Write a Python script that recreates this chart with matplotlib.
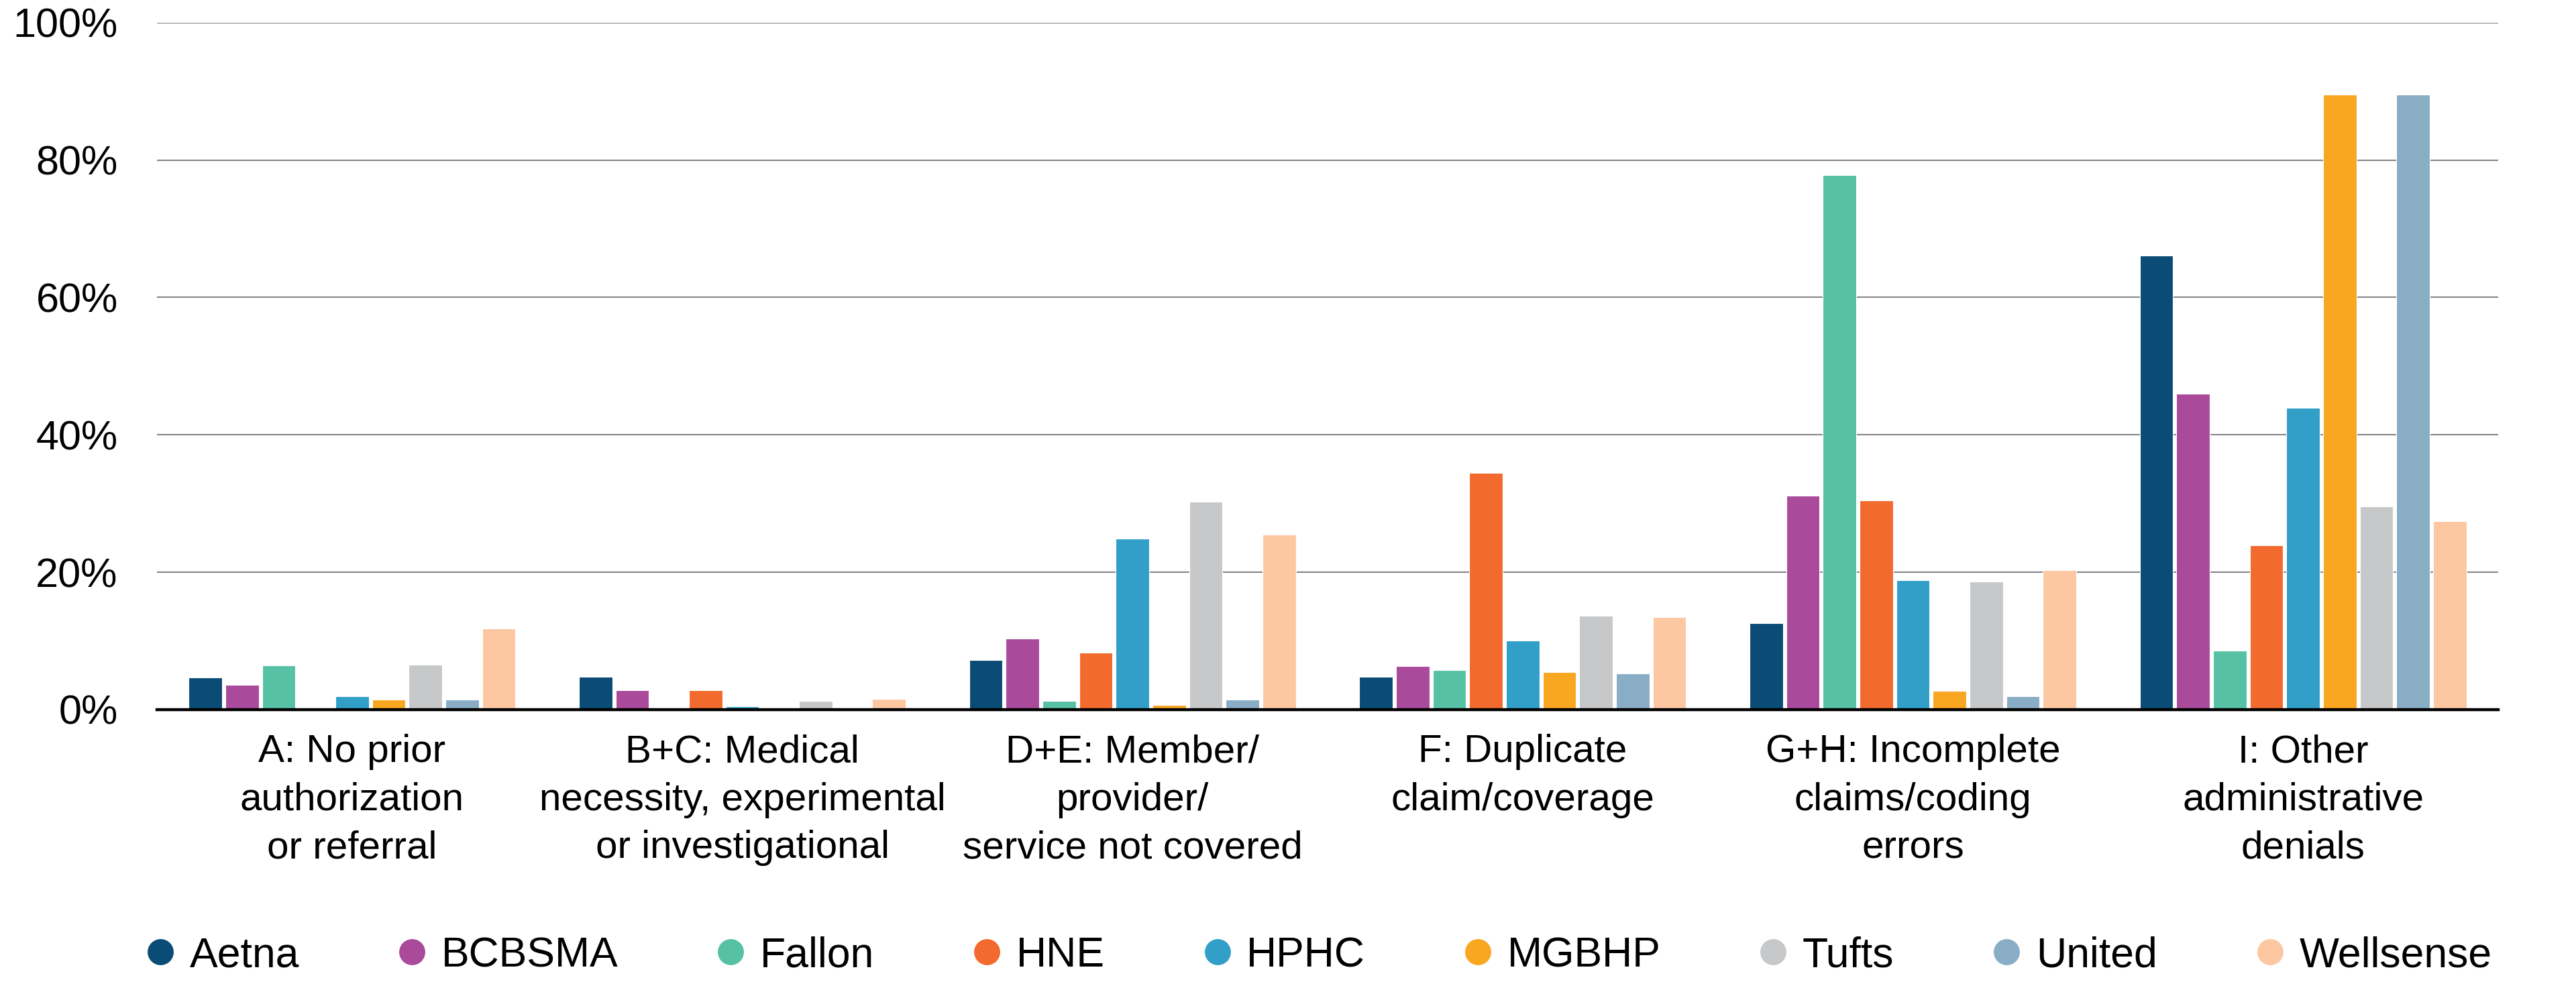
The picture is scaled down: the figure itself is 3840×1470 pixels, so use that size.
import matplotlib
matplotlib.use("Agg")
import matplotlib.pyplot as plt
import numpy as np
from matplotlib.lines import Line2D

plt.rcParams['font.family'] = ['Liberation Sans', 'DejaVu Sans']

categories = [
    "A: No prior\nauthorization\nor referral",
    "B+C: Medical\nnecessity, experimental\nor investigational",
    "D+E: Member/\nprovider/\nservice not covered",
    "F: Duplicate\nclaim/coverage",
    "G+H: Incomplete\nclaims/coding\nerrors",
    "I: Other\nadministrative\ndenials",
]
payers = ["Aetna", "BCBSMA", "Fallon", "HNE", "HPHC", "MGBHP", "Tufts", "United", "Wellsense"]
colors = ["#0a4c76", "#aa4a9b", "#57c1a6", "#f26a2e", "#319fc8", "#f9a621", "#c7c8ca", "#88adc5", "#fdc7a2"]

# percent values, per payer across the six categories
aetna     = [4.7, 4.8, 7.2, 4.8, 12.6, 66.1]
bcbsma    = [3.6, 2.8, 10.3, 6.3, 31.1, 46.0]
fallon    = [6.4, 0.2, 1.3, 5.8, 77.8, 8.6]
hne       = [0.2, 2.8, 8.3, 34.5, 30.5, 23.9]
hphc      = [2.0, 0.5, 24.9, 10.1, 18.8, 43.9]
mgbhp     = [1.5, 0.1, 0.7, 5.5, 2.7, 89.5]
tufts     = [6.5, 1.3, 30.3, 13.7, 18.6, 29.6]
united    = [1.5, 0.3, 1.5, 5.3, 2.0, 89.5]
wellsense = [11.8, 1.6, 25.5, 13.5, 20.3, 27.4]
series = [aetna, bcbsma, fallon, hne, hphc, mgbhp, tufts, united, wellsense]

yticks = [0, 20, 40, 60, 80, 100]
ytick_labels = ["0%", "20%", "40%", "60%", "80%", "100%"]

fig = plt.figure(figsize=(38.4, 14.7), dpi=100)
ax = fig.add_axes([234/3840, 1 - 1058/1470, (3724-234)/3840, (1058-33.7)/1470])

x = np.arange(len(categories))
pitch = 0.094
width = 0.0855
n = len(series)
for i, (vals, c, name) in enumerate(zip(series, colors, payers)):
    offs = (i - (n - 1) / 2) * pitch
    ax.bar(x + offs, vals, width=width, color=c, edgecolor='white', linewidth=0.8, zorder=3, label=name)

ax.set_xlim(-0.5, len(categories) - 0.5)
ax.set_ylim(0, 100)
ax.set_yticks(yticks)
ax.set_yticklabels(ytick_labels, fontsize=44)
ax.set_xticks(x)
ax.set_xticklabels(categories, fontsize=42, linespacing=1.42)
ax.tick_params(axis='y', length=0, pad=42)
ax.tick_params(axis='x', length=0, pad=26)
ax.grid(axis='y', color='#85858b', linewidth=1.5, zorder=0)
for s in ['top', 'right', 'left']:
    ax.spines[s].set_visible(False)
ax.spines['bottom'].set_color('black')
ax.spines['bottom'].set_linewidth(3.2)
ax.spines['bottom'].set_zorder(4)

handles = [Line2D([0], [0], marker='o', linestyle='none', markersize=28,
                  markerfacecolor=c, markeredgecolor='none') for c in colors]
leg = ax.legend(handles, payers, ncol=9, loc='center', mode='expand',
                bbox_to_anchor=(-0.0057, -0.383, 1.003, 0.05), frameon=False,
                fontsize=45, handletextpad=0.3, handlelength=0.8,
                borderaxespad=0, borderpad=0)

fig.savefig("out.png", dpi=100)
